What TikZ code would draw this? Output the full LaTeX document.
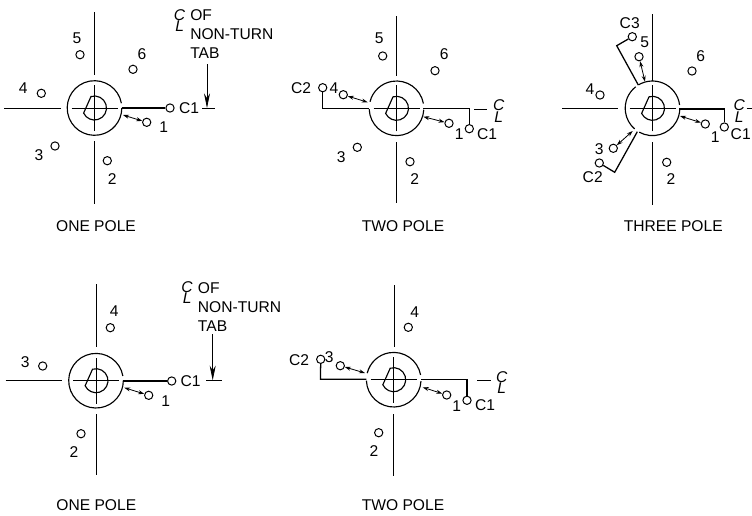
\documentclass[tikz,border=0pt]{standalone}
\usepackage{fontspec}
\setmainfont{Liberation Sans}
\usetikzlibrary{arrows.meta}

\newcommand{\clmark}{\rlap{\raisebox{4.3pt}{\itshape C}}\raisebox{-4.3pt}{\hspace{1pt}\itshape L}}

% hub: centre x, centre y, list of ring arcs
\newcommand{\camhub}[3]{
    \begin{scope}[shift={(#1,#2)}, y=0.75pt]
        \foreach \from/\to in {#3}
            \draw[ring] (\from:27.3) arc[start angle=\from, end angle=\to, radius=27.3];
        \draw[axis] (-23,0) -- (23,0);
        \draw[axis] (0,-23) -- (0,23);
        \draw[axis] (-3,0) -- (3,0);
        \draw[axis] (0,-3) -- (0,3);
        \draw[ring] (107:12) arc[start angle=107, end angle=-155, radius=12] -- cycle;
    \end{scope}
}

\tikzset{
    term/.style={draw, circle, line width=0.75pt, minimum size=6.2pt, inner sep=0pt},
    lbl/.style={inner sep=0pt, font=\fontsize{11.7}{13}\selectfont},
    axis/.style={line width=0.6pt},
    ring/.style={line width=0.85pt},
    lead/.style={line width=0.95pt},
    swing/.style={line width=0.6pt, {Stealth[length=4.5pt,width=3pt]}-{Stealth[length=4.5pt,width=3pt]}},
    drop/.style={line width=0.6pt, -{Stealth[length=11pt,width=4.5pt]}}
}

\begin{document}
\begin{tikzpicture}[x=0.75pt, y=-0.75pt]
            \useasboundingbox (0,0) rectangle (752,515);

            % One pole, six positions
            \draw[axis] (94.5,12) -- (94.5,75);
            \draw[axis] (94.5,141) -- (94.5,204);
            \draw[axis] (4,108) -- (61,108);
            \camhub{94.5}{108}{10/360}
            \node[term] (a-1) at (146.7,122.3) {};
            \node[term] (a-2) at (107.3,160.7) {};
            \node[term] (a-3) at (55,146) {};
            \node[term] (a-4) at (41.3,93.3) {};
            \node[term] (a-5) at (80,54.7) {};
            \node[term] (a-6) at (133,69.3) {};
            \node[term] (a-c1) at (170,108) {};
            \node[lbl] (a-l1) at (163.7,127.3) {1};
            \node[lbl] (a-l2) at (112.3,178.7) {2};
            \node[lbl] (a-l3) at (39,155) {3};
            \node[lbl] (a-l4) at (23.3,88.3) {4};
            \node[lbl] (a-l5) at (77,38) {5};
            \node[lbl] (a-l6) at (142,53.7) {6};
            \node[lbl] (a-lc1) at (189,107.7) {C1};
            \node[lbl] (a-cl) at (179,20.5) {\clmark};
            \node[lbl, anchor=west, align=left] (a-tab) at (190,34.2) {OF\\[1.1pt]NON-TURN\\[1.1pt]TAB};
            \node[lbl] (a-cap) at (96,225.7) {ONE POLE};
            \coordinate (a-r) at (122,108);
            \coordinate (a-s) at (123,115);
            \coordinate (a-t) at (207,64);
            \coordinate (a-u) at (207,108);
            \coordinate (a-v) at (202,108);
            \coordinate (a-w) at (214.5,108);
            \draw[lead] (a-r) -- (a-c1);
            \draw[swing] (a-s) -- (a-1);
            \draw[drop] (a-t) -- (a-u);
            \draw[axis] (a-v) -- (a-w);

            % Two pole, six positions
            \draw[axis] (396,16) -- (396,76);
            \draw[axis] (396.5,142) -- (396.5,203);
            \camhub{396.5}{108.3}{10/166, 182/357}
            \node[term] (b-1) at (449,123.3) {};
            \node[term] (b-2) at (410,161.7) {};
            \node[term] (b-3) at (357.3,147.3) {};
            \node[term] (b-4) at (343.3,94.7) {};
            \node[term] (b-5) at (382.7,56) {};
            \node[term] (b-6) at (435,70.7) {};
            \node[term] (b-c1) at (469.3,128.7) {};
            \node[term] (b-c2) at (322.7,87.7) {};
            \node[lbl] (b-l1) at (459.3,134) {1};
            \node[lbl] (b-l2) at (414.7,179.3) {2};
            \node[lbl] (b-l3) at (341.3,156.7) {3};
            \node[lbl] (b-l4) at (334,88.3) {4};
            \node[lbl] (b-l5) at (379.3,38.7) {5};
            \node[lbl] (b-l6) at (444.3,54.3) {6};
            \node[lbl] (b-lc1) at (487,133.7) {C1};
            \node[lbl] (b-lc2) at (301,88.3) {C2};
            \node[lbl] (b-cl) at (498,111) {\clmark};
            \node[lbl] (b-cap) at (403,225.7) {TWO POLE};
            \coordinate (b-r) at (423,108.3);
            \coordinate (b-rc) at (469.3,108.3);
            \coordinate (b-l) at (368.7,108.3);
            \coordinate (b-lc) at (322.7,108.3);
            \coordinate (b-s) at (423.3,116.7);
            \coordinate (b-q) at (367.7,102.3);
            \coordinate (b-v) at (474,109);
            \coordinate (b-w) at (487.3,109);
            \draw[lead] (b-r) -- (b-rc) -- (b-c1);
            \draw[lead] (b-l) -- (b-lc) -- (b-c2);
            \draw[swing] (b-s) -- (b-1);
            \draw[swing] (b-q) -- (b-4);
            \draw[axis] (b-v) -- (b-w);

            % Three pole, six positions
            \draw[axis] (652,14) -- (652,81);
            \draw[axis] (652.5,142) -- (652.5,205);
            \draw[axis] (562.3,108.3) -- (618.3,108.3);
            \camhub{652.5}{108.3}{7/121, 128/229, 241/360}
            \node[term] (c-1) at (705.3,124) {};
            \node[term] (c-2) at (666.7,162.3) {};
            \node[term] (c-3) at (613.3,148.3) {};
            \node[term] (c-4) at (600,95) {};
            \node[term] (c-5) at (639,56.7) {};
            \node[term] (c-6) at (692,71) {};
            \node[term] (c-c1) at (724.3,127) {};
            \node[term] (c-c2) at (599.3,163) {};
            \node[term] (c-c3) at (632.3,36.7) {};
            \node[lbl] (c-l1) at (715.3,136.7) {1};
            \node[lbl] (c-l2) at (671,179.3) {2};
            \node[lbl] (c-l3) at (599.3,148.7) {3};
            \node[lbl] (c-l4) at (590,89) {4};
            \node[lbl] (c-l5) at (644.7,42.7) {5};
            \node[lbl] (c-l6) at (700.7,56) {6};
            \node[lbl] (c-lc1) at (740.7,134.3) {C1};
            \node[lbl] (c-lc2) at (592.7,176.7) {C2};
            \node[lbl] (c-lc3) at (629.7,23.3) {C3};
            \node[lbl] (c-cl) at (738.5,111) {\clmark};
            \node[lbl] (c-cap) at (673.3,225.7) {THREE POLE};
            \coordinate (c-r) at (679.3,109);
            \coordinate (c-rc) at (724.3,109);
            \coordinate (c-t) at (638.3,85);
            \coordinate (c-tc) at (616.7,45.7);
            \coordinate (c-b) at (637.3,131.7);
            \coordinate (c-bc) at (614.7,172.3);
            \coordinate (c-s) at (680,116);
            \coordinate (c-q) at (645,81.7);
            \coordinate (c-p) at (632.7,131);
            \coordinate (c-v) at (746.7,108);
            \coordinate (c-w) at (752,108);
            \draw[lead] (c-r) -- (c-rc) -- (c-c1);
            \draw[lead] (c-t) -- (c-tc) -- (c-c3);
            \draw[lead] (c-b) -- (c-bc) -- (c-c2);
            \draw[swing] (c-s) -- (c-1);
            \draw[swing] (c-q) -- (c-5);
            \draw[swing] (c-p) -- (c-3);
            \draw[axis] (c-v) -- (c-w);

            % One pole, four positions
            \draw[axis] (96,284) -- (96,346.7);
            \draw[axis] (96,414) -- (96,475);
            \draw[axis] (5.7,380.7) -- (61.7,380.7);
            \camhub{96}{380.7}{10/360}
            \node[term] (d-1) at (148.7,395.3) {};
            \node[term] (d-2) at (81,433.7) {};
            \node[term] (d-3) at (42.7,366) {};
            \node[term] (d-4) at (110.3,327.7) {};
            \node[term] (d-c1) at (171.7,381) {};
            \node[lbl] (d-l1) at (165.7,401) {1};
            \node[lbl] (d-l2) at (74,452.3) {2};
            \node[lbl] (d-l3) at (25.3,361.7) {3};
            \node[lbl] (d-l4) at (114.3,310.7) {4};
            \node[lbl] (d-lc1) at (190.7,380.7) {C1};
            \node[lbl] (d-cl) at (186.5,292.7) {\clmark};
            \node[lbl, anchor=west, align=left] (d-tab) at (197.7,307.2) {OF\\[1.1pt]NON-TURN\\[1.1pt]TAB};
            \node[lbl] (d-cap) at (96.3,505.3) {ONE POLE};
            \coordinate (d-r) at (123.3,381);
            \coordinate (d-s) at (124.3,387.7);
            \coordinate (d-t) at (212.7,334);
            \coordinate (d-u) at (212.7,380.3);
            \coordinate (d-v) at (206,380.3);
            \coordinate (d-w) at (222.3,380.3);
            \draw[lead] (d-r) -- (d-c1);
            \draw[swing] (d-s) -- (d-1);
            \draw[drop] (d-t) -- (d-u);
            \draw[axis] (d-v) -- (d-w);

            % Two pole, four positions
            \draw[axis] (394,285) -- (394,346.7);
            \draw[axis] (393.5,414) -- (393.5,475.7);
            \camhub{393.7}{379.7}{10/166, 182/357}
            \node[term] (e-1) at (446.7,395) {};
            \node[term] (e-2) at (378.7,432.7) {};
            \node[term] (e-3) at (340.3,365.7) {};
            \node[term] (e-4) at (408.3,327.3) {};
            \node[term] (e-c1) at (467,400.3) {};
            \node[term] (e-c2) at (320.7,359.3) {};
            \node[lbl] (e-l1) at (456.7,406) {1};
            \node[lbl] (e-l2) at (374,451.3) {2};
            \node[lbl] (e-l3) at (329.3,356.7) {3};
            \node[lbl] (e-l4) at (414.7,312.3) {4};
            \node[lbl] (e-lc1) at (485,404.7) {C1};
            \node[lbl] (e-lc2) at (299,360) {C2};
            \node[lbl] (e-cl) at (501,382.7) {\clmark};
            \node[lbl] (e-cap) at (403,505.3) {TWO POLE};
            \coordinate (e-r) at (421,379.3);
            \coordinate (e-rc) at (467,379.3);
            \coordinate (e-l) at (366.3,379.3);
            \coordinate (e-lc) at (320.5,379.3);
            \coordinate (e-s) at (422.7,387.3);
            \coordinate (e-q) at (365,373);
            \coordinate (e-v) at (477.3,380);
            \coordinate (e-w) at (490.7,380);
            \draw[lead] (e-r) -- (e-rc) -- (e-c1);
            \draw[lead] (e-l) -- (e-lc) -- (e-c2);
            \draw[swing] (e-s) -- (e-1);
            \draw[swing] (e-q) -- (e-3);
            \draw[axis] (e-v) -- (e-w);

        \end{tikzpicture}
\end{document}
